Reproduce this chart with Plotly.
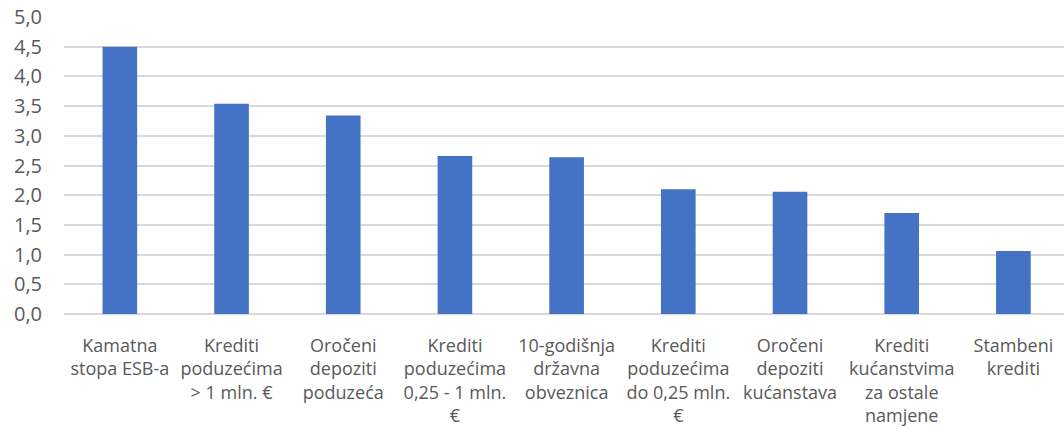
import numpy as np
import plotly.graph_objects as go

# Interest rates (%) by instrument
categories = [
    "Kamatna<br>stopa ESB-a",
    "Krediti<br>poduzećima<br>&gt; 1 mln. €",
    "Oročeni<br>depoziti<br>poduzeća",
    "Krediti<br>poduzećima<br>0,25 - 1 mln.<br>€",
    "10-godišnja<br>državna<br>obveznica",
    "Krediti<br>poduzećima<br>do 0,25 mln.<br>€",
    "Oročeni<br>depoziti<br>kućanstava",
    "Krediti<br>kućanstvima<br>za ostale<br>namjene",
    "Stambeni<br>krediti",
]
values = [4.50, 3.54, 3.34, 2.66, 2.64, 2.10, 2.06, 1.70, 1.06]

y_ticks = [0.0, 0.5, 1.0, 1.5, 2.0, 2.5, 3.0, 3.5, 4.0, 4.5, 5.0]
y_tick_text = [f"{v:.1f}".replace(".", ",") for v in y_ticks]

x_pos = np.arange(len(categories))

FONT = "Open Sans, sans-serif"
TEXT_COLOR = "#595959"
GRID_COLOR = "#D9D9D9"

fig = go.Figure(
    go.Bar(
        x=x_pos,
        y=values,
        marker=dict(color="#4472C4", line=dict(width=0)),
        width=0.31,
    )
)

fig.update_layout(
    width=1064,
    height=429,
    margin=dict(l=64, r=0, t=17, b=115),
    paper_bgcolor="white",
    plot_bgcolor="white",
    showlegend=False,
    font=dict(family=FONT, color=TEXT_COLOR, size=18),
)

fig.update_xaxes(
    tickmode="array",
    tickvals=x_pos,
    ticktext=categories,
    range=[-0.5, 8.453],
    showgrid=False,
    showline=False,
    zeroline=False,
    ticks="",
    tickangle=0,
    ticklabelstandoff=19,
    tickfont=dict(family=FONT, size=18, color=TEXT_COLOR),
)

fig.update_yaxes(
    range=[0, 5.0],
    tickmode="array",
    tickvals=y_ticks,
    ticktext=y_tick_text,
    showgrid=True,
    gridcolor=GRID_COLOR,
    gridwidth=2,
    zeroline=True,
    zerolinecolor=GRID_COLOR,
    zerolinewidth=2,
    showline=False,
    ticks="",
    ticklabelstandoff=21,
    tickfont=dict(family=FONT, size=20, color=TEXT_COLOR),
)

fig.write_html("out.html")
